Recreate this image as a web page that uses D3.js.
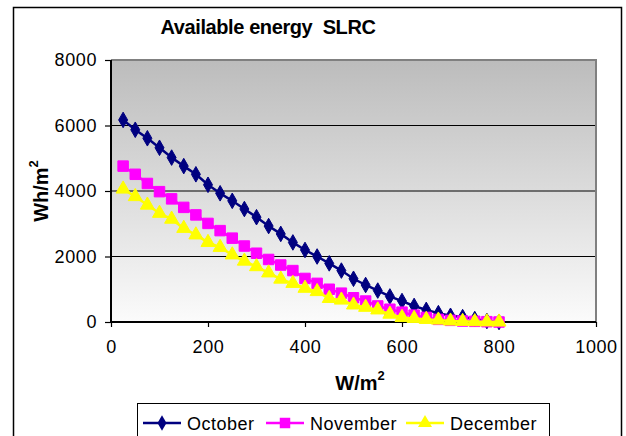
<!DOCTYPE html>
<html>
<head>
<meta charset="utf-8">
<script src="https://cdn.jsdelivr.net/npm/d3@7"></script>
<style>
  body { margin: 0; background: #fff; }
  svg { display: block; font-family: "Liberation Sans", Arial, sans-serif; }
</style>
</head>
<body>
<svg width="626" height="436"></svg>
<script>
var irradiance = [25, 50, 75, 100, 125, 150, 175, 200, 225, 250, 275, 300, 325, 350, 375, 400,
    425, 450, 475, 500, 525, 550, 575, 600, 625, 650, 675, 700, 725, 750, 775, 800];

var october = [6170, 5870, 5610, 5320, 5020, 4760, 4510, 4190, 3930, 3700, 3450, 3200, 2930, 2690, 2430, 2200,
    2000, 1790, 1570, 1320, 1130, 960, 780, 640, 490, 370, 270, 190, 150, 90, 30, 0];
var november = [4760, 4510, 4230, 3980, 3760, 3500, 3270, 3010, 2790, 2560, 2320, 2100, 1910, 1740, 1570, 1330,
    1180, 1000, 880, 740, 640, 490, 390, 300, 210, 140, 80, 50, 30, 20, 10, 0];
var december = [4060, 3830, 3570, 3320, 3140, 2860, 2660, 2430, 2280, 2050, 1860, 1690, 1500, 1310, 1180, 1030,
    930, 720, 670, 520, 450, 370, 240, 140, 110, 80, 60, 30, 20, 10, 5, 0];

var xTicks = [0, 200, 400, 600, 800, 1000];
var yTicks = [0, 2000, 4000, 6000, 8000];

var series = [
    { name: "October", values: october, color: "#000080", symbol: d3.symbolDiamond, size: 70 },
    { name: "November", values: november, color: "#ff00ff", symbol: d3.symbolSquare, size: 110 },
    { name: "December", values: december, color: "#ffff00", symbol: d3.symbolTriangle, size: 85 }
];

var svg = d3.select("svg");

var x = d3.scaleLinear().domain([0, 1000]).range([111, 596]);
var y = d3.scaleLinear().domain([0, 8000]).range([322, 60]);

// outer chart border
svg.append("rect")
    .attr("x", 13.5).attr("y", 7.5)
    .attr("width", 608).attr("height", 440)
    .attr("fill", "#fff")
    .attr("stroke", "#000")
    .attr("stroke-width", 1.5);

// plot background gradient
var grad = svg.append("defs").append("linearGradient")
    .attr("id", "bg").attr("x1", 0).attr("y1", 0).attr("x2", 0).attr("y2", 1);
grad.append("stop").attr("offset", "0%").attr("stop-color", "#bcbcbc");
grad.append("stop").attr("offset", "100%").attr("stop-color", "#fbfbfb");

svg.append("rect")
    .attr("x", x(0)).attr("y", y(8000))
    .attr("width", x(1000) - x(0)).attr("height", y(0) - y(8000))
    .attr("fill", "url(#bg)");

// gridlines
svg.selectAll(".grid")
    .data(yTicks.filter(function(d) { return d > 0 && d < 8000; }))
    .enter().append("line")
    .attr("x1", x(0)).attr("x2", x(1000))
    .attr("y1", function(d) { return y(d); })
    .attr("y2", function(d) { return y(d); })
    .attr("stroke", "#000")
    .attr("stroke-width", 1);

// top and right plot border
svg.append("path")
    .attr("d", "M" + x(0) + "," + y(8000) + "H" + x(1000) + "V" + y(0))
    .attr("fill", "none")
    .attr("stroke", "#808080")
    .attr("stroke-width", 2);

// axes
var xAxis = d3.axisBottom(x).tickValues(xTicks).tickFormat(d3.format("d")).tickSize(5).tickPadding(13);
var yAxis = d3.axisLeft(y).tickValues(yTicks).tickFormat(d3.format("d")).tickSize(6).tickPadding(8);

var gx = svg.append("g").attr("transform", "translate(0," + y(0) + ")").call(xAxis);
var gy = svg.append("g").attr("transform", "translate(" + x(0) + ",0)").call(yAxis);

[gx, gy].forEach(function(g) {
    g.select(".domain").attr("stroke", "#000").attr("stroke-width", 2);
    g.selectAll(".tick line").attr("stroke", "#000").attr("stroke-width", 1.2);
    g.selectAll(".tick text")
        .attr("fill", "#000")
        .style("font-size", "18px")
        .style("letter-spacing", "0.6px")
        .style("font-family", "Liberation Sans, Arial, sans-serif");
});
gx.select(".domain").attr("d", "M" + x(0) + ",0H" + x(1000));
gy.select(".domain").attr("d", "M0," + y(0) + "V" + y(8000));

// series
var line = d3.line()
    .x(function(d, i) { return x(irradiance[i]); })
    .y(function(d) { return y(d); });

series.forEach(function(s) {
    var g = svg.append("g");
    g.append("path")
        .datum(s.values)
        .attr("d", line)
        .attr("fill", "none")
        .attr("stroke", s.color)
        .attr("stroke-width", 2.5);
    g.selectAll("path.mark")
        .data(s.values)
        .enter().append("path")
        .attr("class", "mark")
        .attr("d", d3.symbol().type(s.symbol).size(s.size))
        .attr("transform", function(d, i) {
            return "translate(" + x(irradiance[i]) + "," + y(d) + ")";
        })
        .attr("fill", s.color)
        .attr("stroke", s.color)
        .attr("stroke-width", 1);
});

// title and axis labels
svg.append("text")
    .attr("x", 268).attr("y", 34)
    .attr("text-anchor", "middle")
    .style("white-space", "pre")
    .style("font-size", "20px").style("font-weight", "bold")
    .style("letter-spacing", "-0.4px")
    .text("Available energy  SLRC");

var xl = svg.append("text")
    .attr("x", 360).attr("y", 390)
    .attr("text-anchor", "middle")
    .style("font-size", "20px").style("font-weight", "bold");
xl.append("tspan").text("W/m");
xl.append("tspan").attr("dy", -10).style("font-size", "13px").text("2");

var yl = svg.append("text")
    .attr("transform", "translate(48,191) rotate(-90)")
    .attr("text-anchor", "middle")
    .style("font-size", "20px").style("font-weight", "bold");
yl.append("tspan").text("Wh/m");
yl.append("tspan").attr("dy", -10).style("font-size", "13px").text("2");

// legend
var legend = svg.append("g");
legend.append("rect")
    .attr("x", 137.5).attr("y", 403.5)
    .attr("width", 412).attr("height", 60)
    .attr("fill", "#fff")
    .attr("stroke", "#000")
    .attr("stroke-width", 1);

var legendX = [143, 266, 406];
series.forEach(function(s, i) {
    var lg = legend.append("g").attr("transform", "translate(" + legendX[i] + ",423)");
    lg.append("line")
        .attr("x1", 0).attr("x2", 38)
        .attr("stroke", s.color).attr("stroke-width", 2.5);
    lg.append("path")
        .attr("d", d3.symbol().type(s.symbol).size(s.size))
        .attr("transform", "translate(19,0)")
        .attr("fill", s.color);
    lg.append("text")
        .attr("x", 44).attr("y", 6.5)
        .style("font-size", "18px")
        .style("letter-spacing", "0.5px")
        .text(s.name);
});
</script>
</body>
</html>
